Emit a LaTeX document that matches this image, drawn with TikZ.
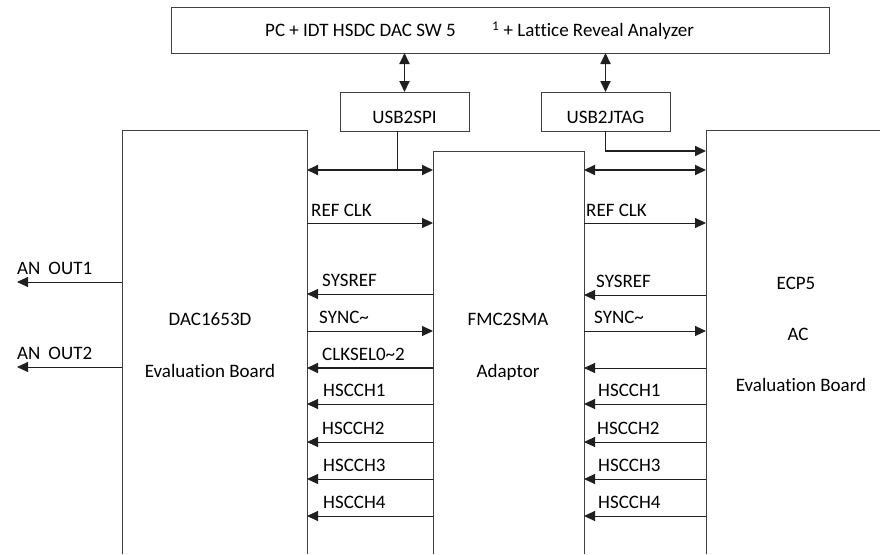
\documentclass[tikz,border=0pt]{standalone}
\usepackage{fontspec}
\setmainfont{Carlito}[Ligatures=NoCommon]
\usetikzlibrary{arrows.meta}
\definecolor{boxgray}{gray}{0.25}
\definecolor{linegray}{gray}{0.12}
\begin{document}
\begin{tikzpicture}[x=1pt,y=-1pt,
  box/.style={draw=boxgray, line width=0.9pt},
  region/.style={inner sep=0pt, outer sep=0pt},
  txt/.style={font=\fontsize{19}{23}\selectfont, inner sep=0pt, anchor=base, text=black},
  txtw/.style={txt, anchor=base west},
  tip/.tip={Triangle[length=11pt,width=10pt]},
  sig/.style={draw=linegray, line width=0.9pt, -tip},
  sigthick/.style={draw=linegray, line width=1.8pt, -tip},
  bus/.style={draw=linegray, line width=1.8pt, tip-tip},
  wire/.style={draw=linegray, line width=0.9pt}
 ]
\useasboundingbox (0,0) rectangle (880,554);

% top box and USB boxes
\node[box, region, minimum width=658pt, minimum height=46pt] (pc) at (500,30) {};
\node[box, region, minimum width=129pt, minimum height=39pt] (spi) at (404.5,111.5) {};
\node[box, region, minimum width=129pt, minimum height=39pt] (jtag) at (605.5,111.5) {};
\node[txtw] (pctxt) at (265,36.5) {PC + IDT HSDC DAC SW 5};
\node[txtw] (pctxt2) at (492,36.5) {\textsuperscript{1} + Lattice Reveal Analyzer};
\node[txt] (spitxt) at (404.5,123) {USB2SPI};
\node[txt] (jtagtxt) at (605.5,123) {USB2JTAG};

% open-bottom boards
\node[region, minimum width=185pt, minimum height=424pt] (dac) at (214.5,342) {};
\node[region, minimum width=151pt, minimum height=403pt] (fmc) at (508.5,352.5) {};
\node[region, minimum width=174pt, minimum height=424pt] (ecp) at (793,342) {};
\draw[box] (dac.south west) -- (dac.north west) -- (dac.north east) -- (dac.south east);
\draw[box] (fmc.south west) -- (fmc.north west) -- (fmc.north east) -- (fmc.south east);
\draw[box] (ecp.south west) -- (ecp.north west) -- (ecp.north east);

\node[txt] (dacname) at (210,325) {DAC1653D};
\node[txt] (daceval) at (210,377) {Evaluation Board};
\node[txt] (fmcname) at (508,325) {FMC2SMA};
\node[txt] (fmcad) at (508,377) {Adaptor};
\node[txt] (ecpname) at (796,289) {ECP5};
\node[txt] (ecpac) at (798,340) {AC};
\node[txt] (ecpeval) at (801,391) {Evaluation Board};

% PC <-> USB
\draw[bus] (spi.north |- pc.south) -- (spi.north);
\draw[bus] (jtag.north |- pc.south) -- (jtag.north);

% buses
\coordinate (spij) at (397,170);
\draw[bus] (dac.east |- spij) -- (fmc.west |- spij);
\draw[wire] (spij |- spi.south) -- (spij);
\draw[bus] (fmc.east |- spij) -- (ecp.west |- spij);
\coordinate (jtagj) at (605.5,151);
\draw[sigthick] (jtag.south) -- (jtagj) -- (ecp.west |- jtagj);

% left side signals
\draw[sig] (dac.east |- 0,223) -- (fmc.west |- 0,223);
\node[txtw] (lref) at (311,216) {REF CLK};
\draw[sig] (fmc.west |- 0,294) -- (dac.east |- 0,294);
\node[txtw] (lsysref) at (322,286) {SYSREF};
\draw[sig] (dac.east |- 0,331) -- (fmc.west |- 0,331);
\node[txtw] (lsync) at (319,323) {SYNC\textasciitilde};
\draw[sigthick] (fmc.west |- 0,368) -- (dac.east |- 0,368);
\node[txtw] (lclksel) at (322,360) {CLKSEL0\textasciitilde 2};
\draw[sig] (fmc.west |- 0,404) -- (dac.east |- 0,404);
\node[txtw] (lh1) at (323,396) {HSCCH1};
\draw[sig] (fmc.west |- 0,442) -- (dac.east |- 0,442);
\node[txtw] (lh2) at (322,434) {HSCCH2};
\draw[sig] (fmc.west |- 0,479) -- (dac.east |- 0,479);
\node[txtw] (lh3) at (323,471) {HSCCH3};
\draw[sig] (fmc.west |- 0,516) -- (dac.east |- 0,516);
\node[txtw] (lh4) at (323,508) {HSCCH4};

% right side signals
\draw[sig] (fmc.east |- 0,223) -- (ecp.west |- 0,223);
\node[txtw] (rref) at (586,216) {REF CLK};
\draw[sig] (ecp.west |- 0,295) -- (fmc.east |- 0,295);
\node[txtw] (rsysref) at (596,287) {SYSREF};
\draw[sig] (fmc.east |- 0,331) -- (ecp.west |- 0,331);
\node[txtw] (rsync) at (594,323) {SYNC\textasciitilde};
\draw[sig] (ecp.west |- 0,368) -- (fmc.east |- 0,368);
\draw[sig] (ecp.west |- 0,404) -- (fmc.east |- 0,404);
\node[txtw] (rh1) at (598,396) {HSCCH1};
\draw[sig] (ecp.west |- 0,442) -- (fmc.east |- 0,442);
\node[txtw] (rh2) at (597,434) {HSCCH2};
\draw[sig] (ecp.west |- 0,479) -- (fmc.east |- 0,479);
\node[txtw] (rh3) at (598,471) {HSCCH3};
\draw[sig] (ecp.west |- 0,516) -- (fmc.east |- 0,516);
\node[txtw] (rh4) at (598,508) {HSCCH4};

% analog outputs
\coordinate (ao1) at (17,282);
\coordinate (ao2) at (17,367);
\draw[sig] (dac.west |- ao1) -- (ao1);
\draw[sig] (dac.west |- ao2) -- (ao2);
\node[txtw] (aout1) at (17,274) {AN\hspace{8pt}OUT1};
\node[txtw] (aout2) at (17,359) {AN\hspace{8pt}OUT2};
\end{tikzpicture}
\end{document}
